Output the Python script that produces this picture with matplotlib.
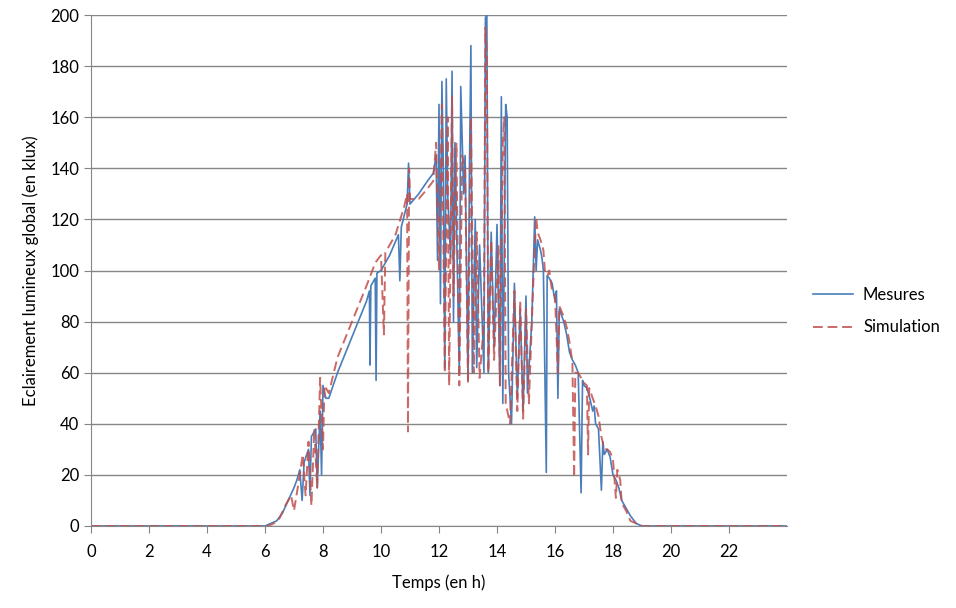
import matplotlib.pyplot as plt

plt.rcParams['font.family'] = ['Lato', 'DejaVu Sans']

t_mes = [0, 6.0, 6.2, 6.4, 6.6, 6.8, 7.0, 7.1, 7.2, 7.28, 7.35, 7.5, 7.55, 7.6, 7.75, 7.8,
         7.9, 7.95, 8.0, 8.1, 8.2, 8.5, 9.0, 9.5, 9.6, 9.62, 9.65, 9.8, 9.83, 9.86, 10.0,
         10.3, 10.6, 10.65, 10.7, 10.9, 10.95, 11.0, 11.3, 11.6, 11.8, 11.9, 11.95, 12.0,
         12.05, 12.1, 12.15, 12.2, 12.25, 12.3, 12.4, 12.45, 12.5, 12.55, 12.7, 12.75, 12.85,
         12.9, 13.0, 13.05, 13.1, 13.15, 13.25, 13.3, 13.4, 13.55, 13.6, 13.65, 13.7, 13.8,
         13.9, 14.0, 14.1, 14.15, 14.2, 14.3, 14.35, 14.4, 14.5, 14.6, 14.7, 14.8, 14.9, 15.0,
         15.05, 15.2, 15.3, 15.35, 15.4, 15.5, 15.55, 15.6, 15.7, 15.73, 15.8, 15.9, 16.0,
         16.05, 16.1, 16.15, 16.3, 16.4, 16.5, 16.6, 16.7, 16.8, 16.9, 16.95, 17.0, 17.1,
         17.2, 17.3, 17.35, 17.4, 17.5, 17.6, 17.65, 17.7, 17.8, 17.9, 18.0, 18.1, 18.2,
         18.3, 18.4, 18.6, 18.8, 19.0, 24]
v_mes = [0, 0, 1, 2, 5, 10, 15, 18, 22, 10, 25, 30, 12, 35, 38, 15,
         45, 20, 55, 50, 50, 60, 74, 88, 92, 63, 94, 97, 57, 99, 100,
         106, 114, 96, 117, 126, 142, 126, 130, 135, 138, 145, 104, 165,
         87, 174, 140, 62, 175, 130, 105, 178, 80, 150, 60, 172, 130,
         145, 57, 140, 188, 60, 120, 62, 110, 60, 199, 200, 60, 115,
         70, 118, 55, 168, 48, 165, 160, 60, 40, 95, 50, 85, 45, 90,
         52, 80, 121, 100, 112, 108, 105, 100, 21, 98, 97, 95, 88,
         92, 50, 85, 80, 75, 68, 65, 63, 60, 13, 57, 55, 54,
         50, 45, 47, 40, 38, 14, 33, 28, 30, 27, 20, 18, 15,
         10, 8, 4, 1, 0, 0]

# Simulation
t_sim = [0, 6.1, 6.3, 6.5, 6.7, 6.9, 7.0, 7.2, 7.3, 7.4, 7.5, 7.6, 7.7, 7.8, 7.9, 8.0,
         8.05, 8.2, 8.5, 9.0, 9.5, 9.8, 10.0, 10.1, 10.15, 10.5, 10.8, 10.9, 10.93, 10.97,
         11.0, 11.3, 11.6, 11.8, 11.9, 12.0, 12.1, 12.2, 12.3, 12.35, 12.45, 12.5, 12.6,
         12.7, 12.8, 12.9, 13.0, 13.1, 13.2, 13.3, 13.4, 13.55, 13.6, 13.65, 13.7, 13.8,
         13.9, 14.05, 14.1, 14.2, 14.25, 14.3, 14.45, 14.6, 14.7, 14.8, 14.9, 15.0, 15.1,
         15.25, 15.35, 15.4, 15.5, 15.6, 15.65, 15.75, 15.8, 15.9, 16.0, 16.1, 16.15, 16.3,
         16.4, 16.5, 16.6, 16.66, 16.7, 16.8, 16.9, 17.0, 17.1, 17.14, 17.18, 17.3, 17.4,
         17.5, 17.6, 17.7, 17.8, 17.9, 18.0, 18.1, 18.15, 18.25, 18.3, 18.45, 18.6, 18.8,
         19.0, 24]
v_sim = [0, 0, 1, 3, 8, 12, 6, 20, 28, 12, 33, 8, 38, 15, 58, 30,
         55, 52, 66, 80, 94, 103, 106, 75, 107, 114, 125, 130, 37, 140,
         128, 128, 132, 135, 150, 100, 165, 60, 160, 55, 168, 90, 150,
         55, 145, 140, 56, 160, 60, 115, 58, 80, 195, 185, 60, 112,
         65, 110, 55, 150, 160, 48, 40, 92, 45, 88, 42, 85, 48,
         95, 121, 115, 112, 108, 100, 98, 100, 92, 90, 60, 86, 82,
         78, 72, 64, 19, 60, 60, 58, 56, 55, 28, 54, 50, 47,
         43, 35, 30, 30, 29, 26, 11, 22, 18, 9, 6, 2, 1,
         0, 0]

fig = plt.figure(figsize=(9.56, 6.08), dpi=100)
ax = fig.add_axes([91/956, 1-526/608, (787-91)/956, (526-15)/608])

ax.plot(t_mes, v_mes, color='#4A7EBB', linewidth=1.2, label='Mesures')
ax.plot(t_sim, v_sim, color='#C0504D', linewidth=1.4, linestyle=(0, (5, 2.5)),
        alpha=0.85, label='Simulation')

ax.set_xlim(0, 24)
ax.set_ylim(0, 200)
ax.set_xticks(range(0, 24, 2))
ax.set_yticks(range(0, 201, 20))
ax.grid(axis='y', color='#868686', linewidth=1)
ax.set_axisbelow(True)
for s in ['top', 'right']:
    ax.spines[s].set_visible(False)
for s in ['left', 'bottom']:
    ax.spines[s].set_color('#868686')
ax.tick_params(colors='#868686', labelcolor='black', labelsize=12, length=5, direction='out')
ax.tick_params(axis='x', pad=8)

ax.set_xlabel('Temps (en h)', fontsize=12, labelpad=10)
ax.set_ylabel('Eclairement lumineux global (en klux)', fontsize=12, labelpad=8)

fig.legend(loc='center left', bbox_to_anchor=(808/956, 1-311/608), frameon=False,
           fontsize=12, handlelength=2.4, labelspacing=1.0, handletextpad=0.6,
           borderaxespad=0, borderpad=0.3)

fig.savefig('out.png', dpi=100)
